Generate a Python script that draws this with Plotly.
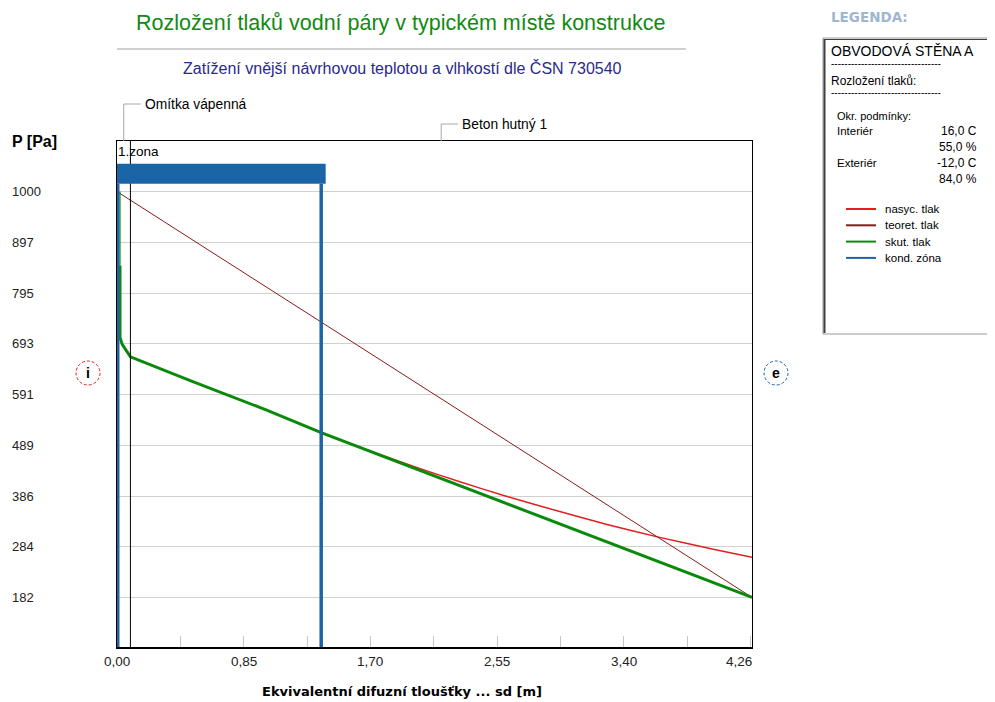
import plotly.graph_objects as go

# ---------------- data ----------------
layer_names = ["Omítka vápenná", "Beton hutný 1"]
layer_bounds = [0.0, 0.09, 4.26]          # sd [m]

x_tick_vals = [0.0, 0.85, 1.70, 2.55, 3.40, 4.26]
x_tick_text = ["0,00", "0,85", "1,70", "2,55", "3,40", "4,26"]
y_tick_vals = [182, 284, 386, 489, 591, 693, 795, 897, 1000]

# theoretical pressure (teoret. tlak)
teor_sd = [0.0, 4.26]
teor_p = [1000, 182]

# saturated pressure (nasyc. tlak)
nasyc_sd = [0.09, 0.5, 1.0, 1.37, 1.63, 2.0, 2.3, 2.6, 2.97, 3.3, 3.64, 4.0, 4.26]
nasyc_p = [667, 618, 560, 514, 485, 445, 415, 387, 355, 328, 303, 279, 263]

# actual pressure (skut. tlak)
skut_top_sd = [0.02, 0.02]
skut_top_p = [1000, 851]
skut_sd = [0.02, 0.02, 0.035, 0.065, 0.09, 0.5, 1.0, 1.37, 4.26]
skut_p = [851, 706, 692, 678, 667, 618, 560, 514, 182]

# condensation zone
zone_sd = [0.0, 1.37]
zone_label = "1.zona"

legend_names = ["nasyc. tlak", "teoret. tlak", "skut. tlak", "kond. zóna"]
legend_colors = ["#e41e1e", "#8b1a1a", "#0a8a0a", "#1b65a6"]

# ---------------- geometry helpers ----------------
OFF = 8                      # page body margin
W, H = 995 - OFF, 702 - OFF
L, R, T, B = 117, 752, 141, 648   # plot box in page pixels
YMIN, YMAX = 80, 1102


def px(x):
    return (x - L) / (R - L)


def py(y):
    return (B - y) / (B - T)


RED, DRED, GREEN, BLUE = legend_colors
FONT = "Liberation Sans"

fig = go.Figure()

fig.add_trace(go.Scatter(x=nasyc_sd, y=nasyc_p, mode="lines",
                         line=dict(color=RED, width=1.5, shape="spline", smoothing=0.6),
                         hoverinfo="skip"))
fig.add_trace(go.Scatter(x=teor_sd, y=teor_p, mode="lines",
                         line=dict(color=DRED, width=1), hoverinfo="skip"))
fig.add_trace(go.Scatter(x=skut_top_sd, y=skut_top_p, mode="lines",
                         line=dict(color=GREEN, width=1.2), hoverinfo="skip"))
fig.add_trace(go.Scatter(x=skut_sd, y=skut_p, mode="lines",
                         line=dict(color=GREEN, width=3), hoverinfo="skip"))

shapes = []
annotations = []

# layer boundary
for b in layer_bounds[1:-1]:
    shapes.append(dict(type="line", xref="x", yref="paper", x0=b, x1=b, y0=0, y1=1,
                       line=dict(color="black", width=1)))

# condensation zone: verticals + bar
bar_lo, bar_hi = 1016, 1056
for k, z in enumerate(zone_sd):
    fig.add_trace(go.Scatter(x=[z, z], y=[YMIN, bar_lo], mode="lines",
                             line=dict(color=BLUE, width=5 if k == 0 else 3.5),
                             hoverinfo="skip"))
pad = 0.03
shapes.append(dict(type="rect", xref="x", yref="y", x0=zone_sd[0] - pad, x1=zone_sd[1] + pad,
                   y0=bar_lo, y1=bar_hi, fillcolor=BLUE, line=dict(width=0), layer="above"))
annotations.append(dict(xref="x", yref="paper", x=zone_sd[0], y=py(151), text=zone_label,
                        showarrow=False, xanchor="left", yanchor="middle", xshift=-1,
                        font=dict(family=FONT, size=13.5, color="black")))

# bottom axis thicker
shapes.append(dict(type="line", xref="paper", yref="paper", x0=0, x1=1, y0=0, y1=0,
                   line=dict(color="black", width=2)))

# layer labels with leaders
label_levels = [104, 124]
for name, a, b, lev in zip(layer_names, layer_bounds[:-1], layer_bounds[1:], label_levels):
    mid = (a + b) / 2
    shapes.append(dict(type="line", xref="x", yref="paper", x0=mid, x1=mid,
                       y0=1, y1=py(lev), line=dict(color="#a8a8a8", width=1)))
    annotations.append(dict(xref="x", yref="paper", x=mid, y=py(lev), text=name,
                            showarrow=False, xanchor="left", yanchor="middle", xshift=19,
                            font=dict(family=FONT, size=13.8, color="black")))

# horizontal leader stubs (pixel length)
for a, b, lev in zip(layer_bounds[:-1], layer_bounds[1:], label_levels):
    mid = (a + b) / 2
    xpix = L + mid / layer_bounds[-1] * (R - L)
    shapes.append(dict(type="line", xref="paper", yref="paper", x0=px(xpix), x1=px(xpix + 17),
                       y0=py(lev), y1=py(lev), line=dict(color="#a8a8a8", width=1)))

# y tick labels (left-aligned)
for v in y_tick_vals:
    annotations.append(dict(xref="paper", yref="y", x=px(10), y=v, text=str(v),
                            showarrow=False, xanchor="left", yanchor="middle",
                            font=dict(family=FONT, size=13, color="#222222")))
# x tick labels
for i, (v, t) in enumerate(zip(x_tick_vals, x_tick_text)):
    annotations.append(dict(xref="x", yref="paper", x=v, y=py(661), text=t,
                            showarrow=False,
                            xanchor="right" if i == len(x_tick_vals) - 1 else "center",
                            xshift=2 if i == len(x_tick_vals) - 1 else 0,
                            yanchor="middle",
                            font=dict(family=FONT, size=13.5, color="#222222")))

# axis titles
annotations.append(dict(xref="paper", yref="paper", x=px(10), y=py(141), text="<b>P [Pa]</b>",
                        showarrow=False, xanchor="left", yanchor="middle",
                        font=dict(family=FONT, size=16, color="black")))
annotations.append(dict(xref="paper", yref="paper", x=px(402), y=py(691),
                        text="<b>Ekvivalentní difuzní tloušťky ... sd [m]</b>",
                        showarrow=False, xanchor="center", yanchor="middle",
                        font=dict(family="DejaVu Sans", size=13, color="black")))

# titles
annotations.append(dict(xref="paper", yref="paper", x=px(400), y=py(23),
                        text="Rozložení tlaků vodní páry v typickém místě konstrukce",
                        showarrow=False, xanchor="center", yanchor="middle",
                        font=dict(family=FONT, size=21.5, color="#128a12")))
shapes.append(dict(type="line", xref="paper", yref="paper", x0=px(117), x1=px(686),
                   y0=py(49), y1=py(49), line=dict(color="#a0a0a0", width=1)))
annotations.append(dict(xref="paper", yref="paper", x=px(402), y=py(68),
                        text="Zatížení vnější návrhovou teplotou a vlhkostí dle ČSN 730540",
                        showarrow=False, xanchor="center", yanchor="middle",
                        font=dict(family=FONT, size=16, color="#2a2a8c")))

# i / e circles
for cx, col, t in [(88, "#e02020", "i"), (776, "#1b65a6", "e")]:
    r = 12
    shapes.append(dict(type="circle", xref="paper", yref="paper",
                       x0=px(cx - r), x1=px(cx + r), y0=py(373 + r), y1=py(373 - r),
                       line=dict(color=col, width=1, dash="3px,2px")))
    annotations.append(dict(xref="paper", yref="paper", x=px(cx), y=py(373), text="<b>" + t + "</b>",
                            showarrow=False, xanchor="center", yanchor="middle",
                            font=dict(family=FONT, size=14, color="black")))

# legend panel
annotations.append(dict(xref="paper", yref="paper", x=px(829), y=py(17), text="<b>LEGENDA:</b>",
                        showarrow=False, xanchor="left", yanchor="middle",
                        font=dict(family="DejaVu Sans", size=13.5, color="#9fb6cf")))
shapes.append(dict(type="rect", xref="paper", yref="paper", x0=px(823), x1=px(1000),
                   y0=py(334), y1=py(38), line=dict(color="#9a9a9a", width=1),
                   fillcolor="white"))
shapes.append(dict(type="line", xref="paper", yref="paper", x0=px(824.5), x1=px(824.5),
                   y0=py(333), y1=py(39), line=dict(color="#404040", width=2)))
shapes.append(dict(type="line", xref="paper", yref="paper", x0=px(824), x1=px(1000),
                   y0=py(39.5), y1=py(39.5), line=dict(color="#404040", width=1)))

legend_text = [
    (829, 51, "OBVODOVÁ STĚNA A", 14, "left"),
    (829, 63, "-" * 33, 10, "left"),
    (829, 81, "Rozložení tlaků:", 12, "left"),
    (829, 93, "-" * 33, 10, "left"),
    (835, 116, "Okr. podmínky:", 11, "left"),
    (835, 131, "Interiér", 11.5, "left"),
    (979, 131, "16,0 C", 12, "right"),
    (979, 147, "55,0 %", 12, "right"),
    (835, 163, "Exteriér", 11.5, "left"),
    (979, 163, "-12,0 C", 12, "right"),
    (979, 179, "84,0 %", 12, "right"),
]
for x, y, t, s, anc in legend_text:
    annotations.append(dict(xref="paper", yref="paper", x=px(x), y=py(y), text=t,
                            showarrow=False, xanchor=anc, yanchor="middle",
                            font=dict(family=FONT, size=s, color="black")))

for i, (name, col) in enumerate(zip(legend_names, legend_colors)):
    yy = 209 + i * 16.3
    shapes.append(dict(type="line", xref="paper", yref="paper", x0=px(846), x1=px(876),
                       y0=py(yy), y1=py(yy), line=dict(color=col, width=2)))
    annotations.append(dict(xref="paper", yref="paper", x=px(883), y=py(yy), text=name,
                            showarrow=False, xanchor="left", yanchor="middle",
                            font=dict(family=FONT, size=11.5, color="black")))

fig.update_layout(
    width=W, height=H,
    margin=dict(l=L - OFF, r=995 - R, t=T - OFF, b=702 - B, pad=0),
    plot_bgcolor="white", paper_bgcolor="white",
    showlegend=False,
    shapes=shapes, annotations=annotations,
    xaxis=dict(range=[0, layer_bounds[-1]], showgrid=False, zeroline=False,
               showline=True, linecolor="black", linewidth=1, mirror=True,
               layer="below traces",
               tickvals=x_tick_vals, ticks="inside", ticklen=12, tickcolor="#c4c4c4",
               showticklabels=False,
               minor=dict(dtick=0.425, tick0=0, ticks="inside", ticklen=12, tickcolor="#c4c4c4")),
    yaxis=dict(range=[YMIN, YMAX], showgrid=True, gridcolor="#d0d0d0", gridwidth=1,
               zeroline=False, showline=True, linecolor="black", linewidth=1, mirror=True,
               layer="below traces",
               tickvals=y_tick_vals, ticks="", showticklabels=False),
)

fig.write_html("out.html")
